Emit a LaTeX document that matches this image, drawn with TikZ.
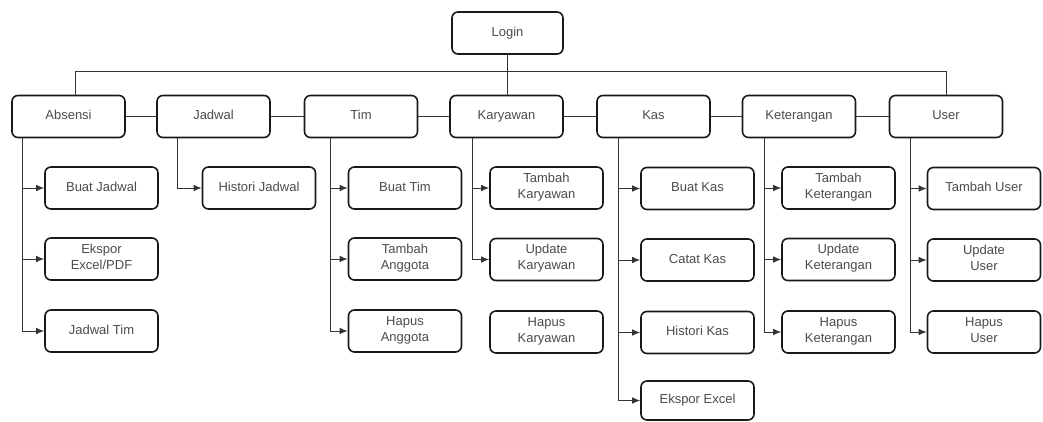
\documentclass[tikz,border=0pt]{standalone}
\usepackage{fontspec}
\setmainfont{Liberation Sans}
\usetikzlibrary{arrows.meta}
\begin{document}
\begin{tikzpicture}[x=1pt,y=-1pt,
  box/.style={draw=black!90,line width=1.6pt,rounded corners=6pt,fill=white,
    minimum width=113pt,minimum height=42pt,inner sep=1pt,align=center,
    text=black!70,font=\fontsize{13}{16}\selectfont,
    execute at begin node=\strut,execute at end node=\strut},
  link/.style={draw=black!80,line width=0.9pt},
  conn/.style={link,-{Latex[length=8pt,width=6.5pt]}}]
\useasboundingbox (0,0) rectangle (1043,421);

% top level
\node[box,minimum width=111pt] (login) at (507.5,33) {Login};
\node[box] (absensi) at (68.5,116.5) {Absensi};
\node[box] (jadwal) at (213.5,116.5) {Jadwal};
\node[box] (tim) at (361,116.5) {Tim};
\node[box] (karyawan) at (506.5,116.5) {Karyawan};
\node[box] (kas) at (653.5,116.5) {Kas};
\node[box] (ket) at (799,116.5) {Keterangan};
\node[box] (user) at (946,116.5) {User};

% sub menus
\node[box] (a1) at (101.5,188) {Buat Jadwal};
\node[box] (a2) at (101.5,259) {Ekspor\\Excel/PDF};
\node[box] (a3) at (101.5,331) {Jadwal Tim};
\node[box] (j1) at (259,188) {Histori Jadwal};
\node[box] (t1) at (405,188) {Buat Tim};
\node[box] (t2) at (405,259) {Tambah\\Anggota};
\node[box] (t3) at (405,331) {Hapus\\Anggota};
\node[box] (k1) at (546.5,188) {Tambah\\Karyawan};
\node[box] (k2) at (546.5,259.5) {Update\\Karyawan};
\node[box] (k3) at (546.5,332) {Hapus\\Karyawan};
\node[box] (s1) at (697.5,188.5) {Buat Kas};
\node[box] (s2) at (697.5,260) {Catat Kas};
\node[box] (s3) at (697.5,332.5) {Histori Kas};
\node[box,minimum height=39pt] (s4) at (697.5,400.5) {Ekspor Excel};
\node[box] (e1) at (838.5,188) {Tambah\\Keterangan};
\node[box] (e2) at (838.5,259.5) {Update\\Keterangan};
\node[box] (e3) at (838.5,332) {Hapus\\Keterangan};
\node[box] (u1) at (984,188.5) {Tambah User};
\node[box] (u2) at (984,260) {Update\\User};
\node[box] (u3) at (984,332) {Hapus\\User};

% login and menu bar
\draw[link] (login.south) -- (login.south |- karyawan.north);
\draw[link] ([xshift=6.5pt]absensi.north) -- ++(0,-23) -| (user.north);
\draw[link] (absensi) -- (jadwal);
\draw[link] (jadwal) -- (tim);
\draw[link] (tim) -- (karyawan);
\draw[link] (karyawan) -- (kas);
\draw[link] (kas) -- (ket);
\draw[link] (ket) -- (user);

% branches to sub menus
\foreach \p/\dx/\kids in {absensi/11/{a1,a2,a3}, jadwal/21/{j1}, tim/27/{t1,t2,t3},
    karyawan/23/{k1,k2}, kas/22/{s1,s2,s3,s4}, ket/23/{e1,e2,e3}, user/22/{u1,u2,u3}}{
  \foreach \c in \kids {
    \draw[conn] ([xshift=\dx pt]\p.south west) |- (\c.west);
  }
}
\end{tikzpicture}
\end{document}
